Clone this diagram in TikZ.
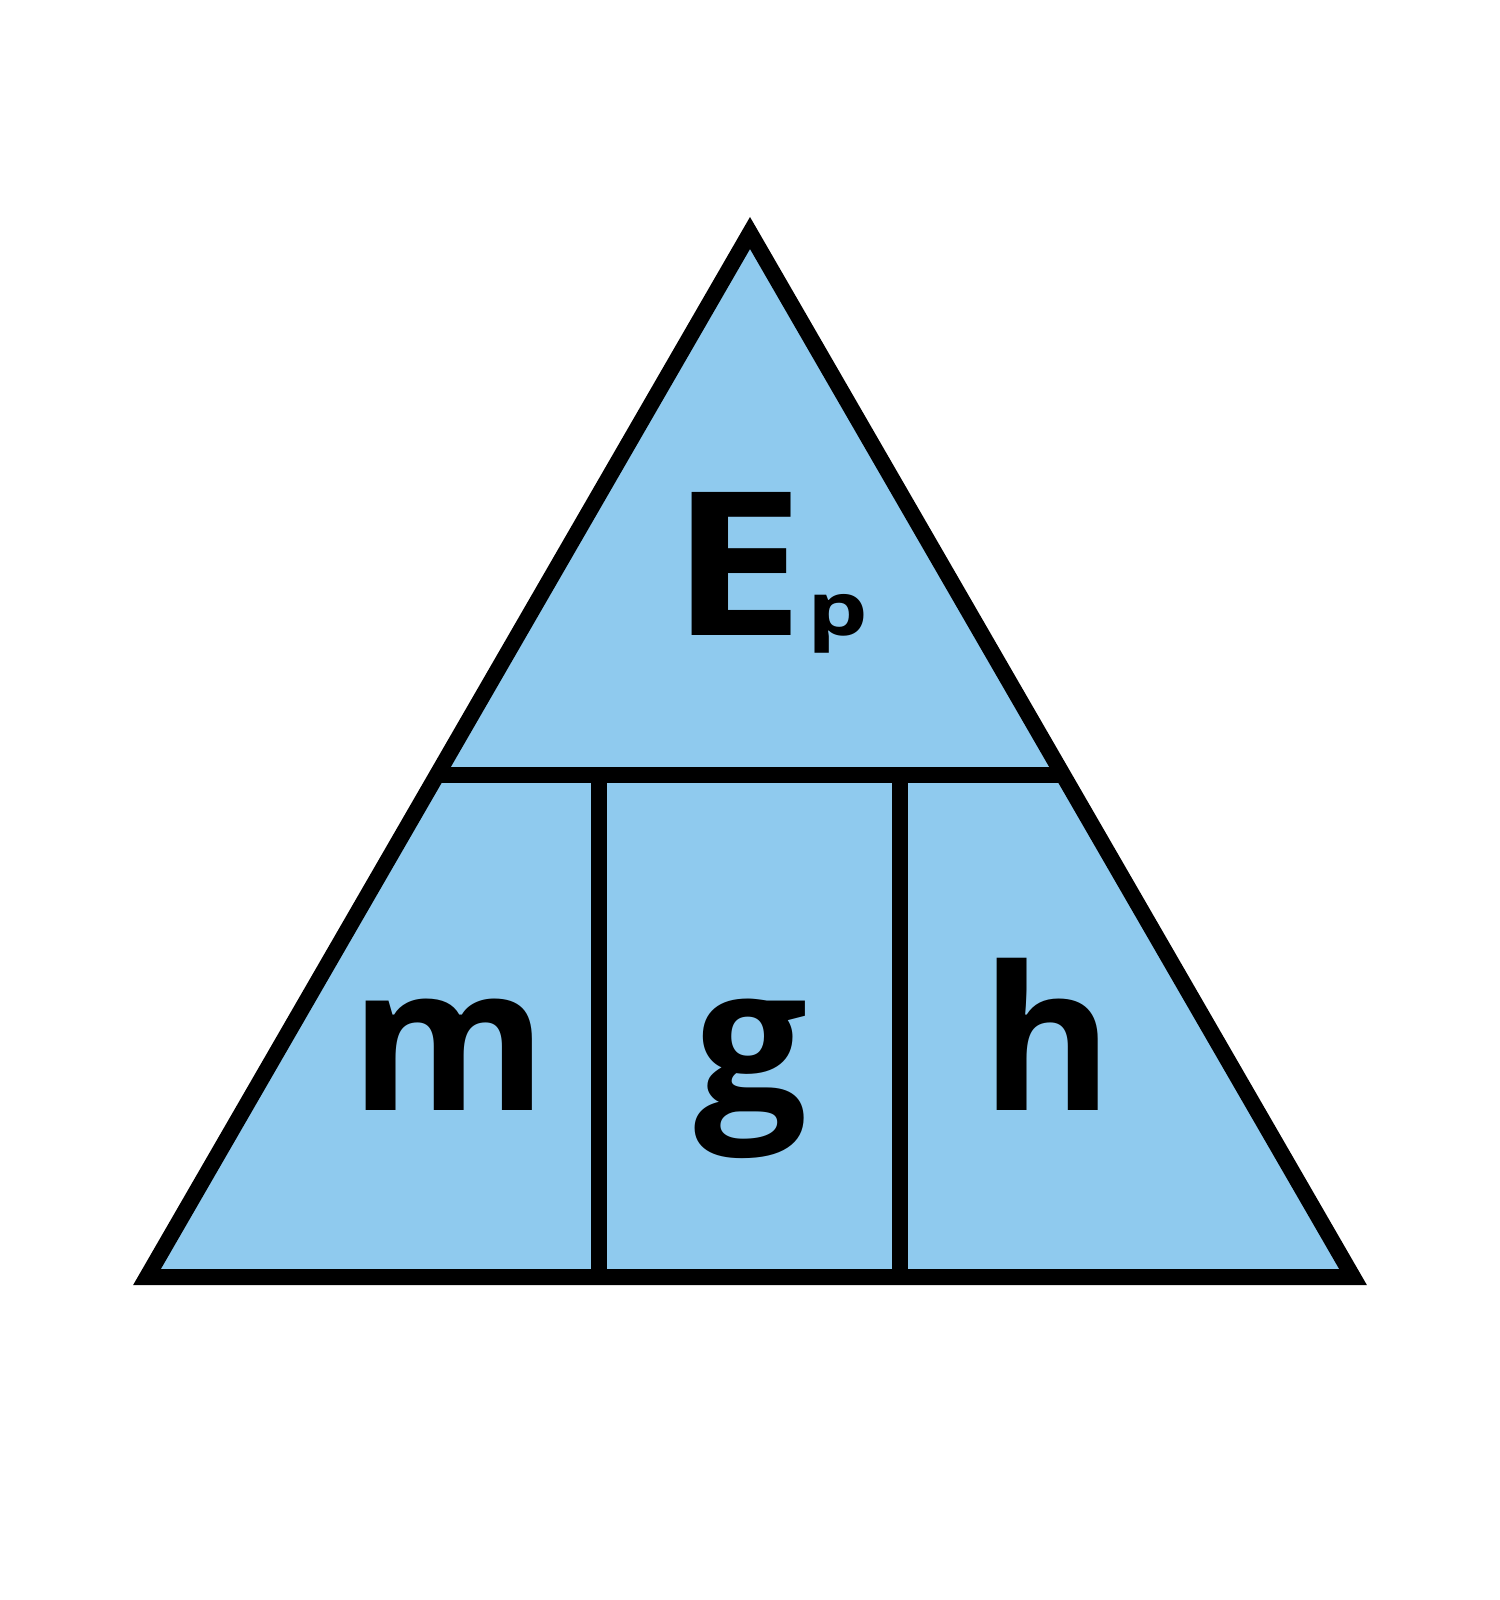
\documentclass[tikz,border=0pt]{standalone}
\usepackage{fontspec}
\setmainfont{Open Sans}
\usetikzlibrary{calc}
\definecolor{cellblue}{RGB}{143,202,238}

\begin{document}
\begin{tikzpicture}[x=0.01cm, y=-0.01cm,
        edge/.style={line width=0.16cm, line join=miter},
        letter/.style={anchor=base, inner sep=0pt, font=\fontsize{57pt}{60pt}\selectfont\bfseries}]
    \useasboundingbox (0,0) rectangle (1500,1600);
    \coordinate (top) at (750,233);
    \coordinate (left) at (147,1277);
    \coordinate (right) at (1353,1277);
    % triangle and dividers
    \filldraw[edge, fill=cellblue] (top) -- (left) -- (right) -- cycle;
    \coordinate (midleft) at ($(top)!0.519!(left)$);
    \coordinate (midright) at ($(top)!0.519!(right)$);
    \draw[edge] (midleft) -- (midright);
    \draw[edge] (599,775) -- (599,1277);
    \draw[edge] (900,775) -- (900,1277);
    % labels
    \node[letter, anchor=base west, xscale=1.2] at (670,635) (E) {E};
    \node[anchor=base west, inner sep=0pt, xscale=1.3, font=\fontsize{21pt}{24pt}\selectfont\bfseries] at (E.base east) (p) {p};
    \node[letter] at (449,1110) (m) {m};
    \node[letter] at (751,1110) (g) {g};
    \node[letter] at (1047,1110) (h) {h};
\end{tikzpicture}
\end{document}
